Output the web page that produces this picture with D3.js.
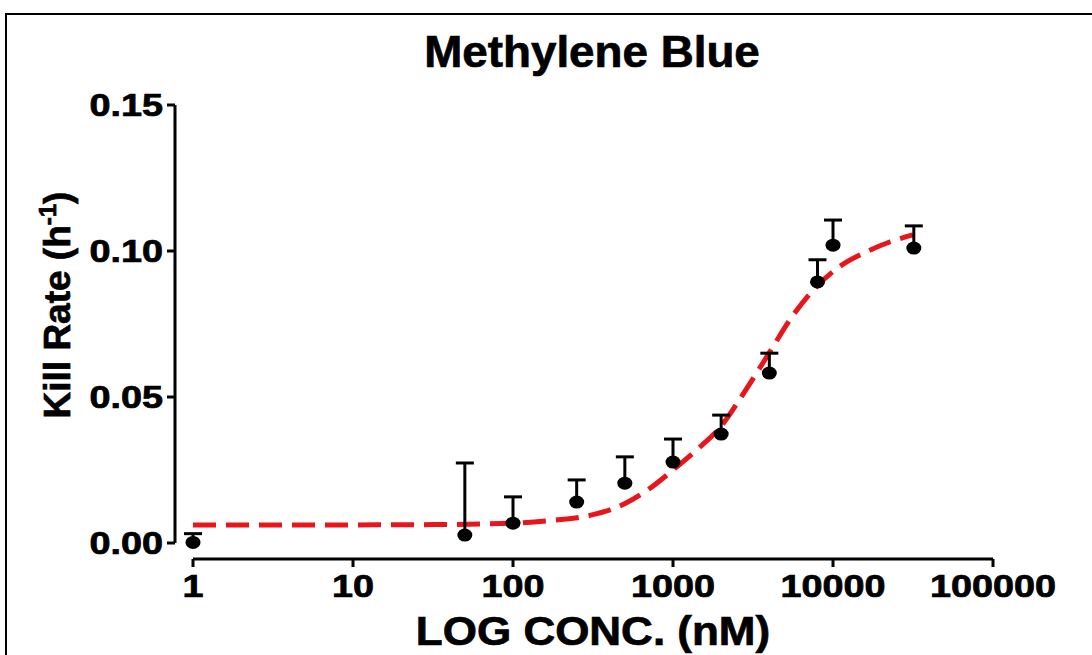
<!DOCTYPE html>
<html><head><meta charset="utf-8">
<script src="https://cdn.jsdelivr.net/npm/d3@7"></script>
<style>
body{margin:0;background:#fff}
text{font-family:"Liberation Sans",Arial,Helvetica,sans-serif;font-weight:bold;fill:#000;stroke:#000;stroke-width:0.7px}
</style>
</head><body>
<svg id="c" width="1092" height="655"></svg>
<script>
// ---- data ----
const concentrations = [1, 50, 100, 250, 500, 1000, 2000, 4000, 8000, 10000, 32000];
const killRate = [0.0002, 0.0027, 0.0068, 0.0140, 0.0205, 0.0277, 0.0373, 0.0582, 0.0894, 0.1020, 0.1010];
const sem = [0.0030, 0.0247, 0.0090, 0.0076, 0.0090, 0.0079, 0.0065, 0.0068, 0.0076, 0.0086, 0.0076];
const fitLogConc = [0, 0.5, 1, 1.5, 2, 2.25, 2.5, 2.7, 2.85, 3, 3.15, 3.3, 3.45, 3.6, 3.75, 3.9, 4.05, 4.2, 4.35, 4.5];
const fitRate = [0.0062, 0.0062, 0.0062, 0.0063, 0.0068, 0.0078, 0.0097, 0.0135, 0.0185, 0.025, 0.032, 0.040, 0.052, 0.065, 0.078, 0.088, 0.095, 0.0995, 0.103, 0.1055];
const xTicks = [1, 10, 100, 1000, 10000, 100000];
const xTickLabels = ["1", "10", "100", "1000", "10000", "100000"];
const yTicks = [0, 0.05, 0.10, 0.15];
const yTickLabels = ["0.00", "0.05", "0.10", "0.15"];
const title = "Methylene Blue";
const xTitle = "LOG CONC. (nM)";

// ---- layout ----
const svg = d3.select("#c");
const x = d3.scaleLog().domain([1, 100000]).range([193, 993]);
const y = d3.scaleLinear().domain([0, 0.15]).range([543, 105]);
const xAxisY = 559, yAxisX = 175;
const sx = 1.22;

// frame
svg.append("rect").attr("x", 6).attr("y", 14).attr("width", 1200).attr("height", 800)
  .attr("fill", "none").attr("stroke", "#000").attr("stroke-width", 2);

// title
svg.append("g").attr("transform", `translate(592,67) scale(1.04,1)`)
  .append("text").attr("text-anchor", "middle").attr("font-size", 44).text(title);

// y axis
const yAxis = svg.append("g").attr("transform", `translate(${yAxisX},0)`);
yAxis.append("line").attr("y1", y(0.15)).attr("y2", y(0)).attr("stroke", "#000").attr("stroke-width", 3);
yTicks.forEach((t, i) => {
  yAxis.append("line").attr("x1", -8).attr("x2", 0).attr("y1", y(t)).attr("y2", y(t))
    .attr("stroke", "#000").attr("stroke-width", 3);
  svg.append("g").attr("transform", `translate(${yAxisX - 12},${y(t) + 11}) scale(${sx},1)`)
    .append("text").attr("text-anchor", "end").attr("font-size", 31).text(yTickLabels[i]);
});

// x axis
const xAxis = svg.append("g").attr("transform", `translate(0,${xAxisY})`);
xAxis.append("line").attr("x1", x(1)).attr("x2", x(100000)).attr("stroke", "#000").attr("stroke-width", 3);
xTicks.forEach((t, i) => {
  xAxis.append("line").attr("x1", x(t)).attr("x2", x(t)).attr("y1", 0).attr("y2", 8)
    .attr("stroke", "#000").attr("stroke-width", 3);
  svg.append("g").attr("transform", `translate(${x(t)},${xAxisY + 38}) scale(${sx},1)`)
    .append("text").attr("text-anchor", "middle").attr("font-size", 31).text(xTickLabels[i]);
});

// axis titles
svg.append("g").attr("transform", `translate(593,645) scale(1.1,1)`)
  .append("text").attr("text-anchor", "middle").attr("font-size", 40).text(xTitle);

const yl = svg.append("g").attr("transform", `translate(70,305) rotate(-90)`)
  .append("text").attr("text-anchor", "middle").attr("font-size", 37);
yl.append("tspan").text("Kill Rate (h");
yl.append("tspan").attr("font-size", 24).attr("dy", -14).text("-1");
yl.append("tspan").attr("dy", 14).text(")");

// fitted curve
const line = d3.line().x(d => x(Math.pow(10, d[0]))).y(d => y(d[1])).curve(d3.curveMonotoneX);
svg.append("path").datum(fitLogConc.map((v, i) => [v, fitRate[i]]))
  .attr("d", line).attr("fill", "none").attr("stroke", "#e8161b")
  .attr("stroke-width", 5).attr("stroke-dasharray", "23,10");

// error bars (upper only)
const pts = concentrations.map((c, i) => ({c, v: killRate[i], e: sem[i]}));
const eb = svg.append("g").attr("stroke", "#000").attr("stroke-width", 3);
pts.forEach(p => {
  eb.append("line").attr("x1", x(p.c)).attr("x2", x(p.c)).attr("y1", y(p.v)).attr("y2", y(p.v + p.e));
  eb.append("line").attr("x1", x(p.c) - 9).attr("x2", x(p.c) + 9).attr("y1", y(p.v + p.e)).attr("y2", y(p.v + p.e));
});

// points
svg.append("g").selectAll("ellipse").data(pts).join("ellipse")
  .attr("cx", d => x(d.c)).attr("cy", d => y(d.v)).attr("rx", 7.5).attr("ry", 6.5).attr("fill", "#000");
</script>
</body></html>
